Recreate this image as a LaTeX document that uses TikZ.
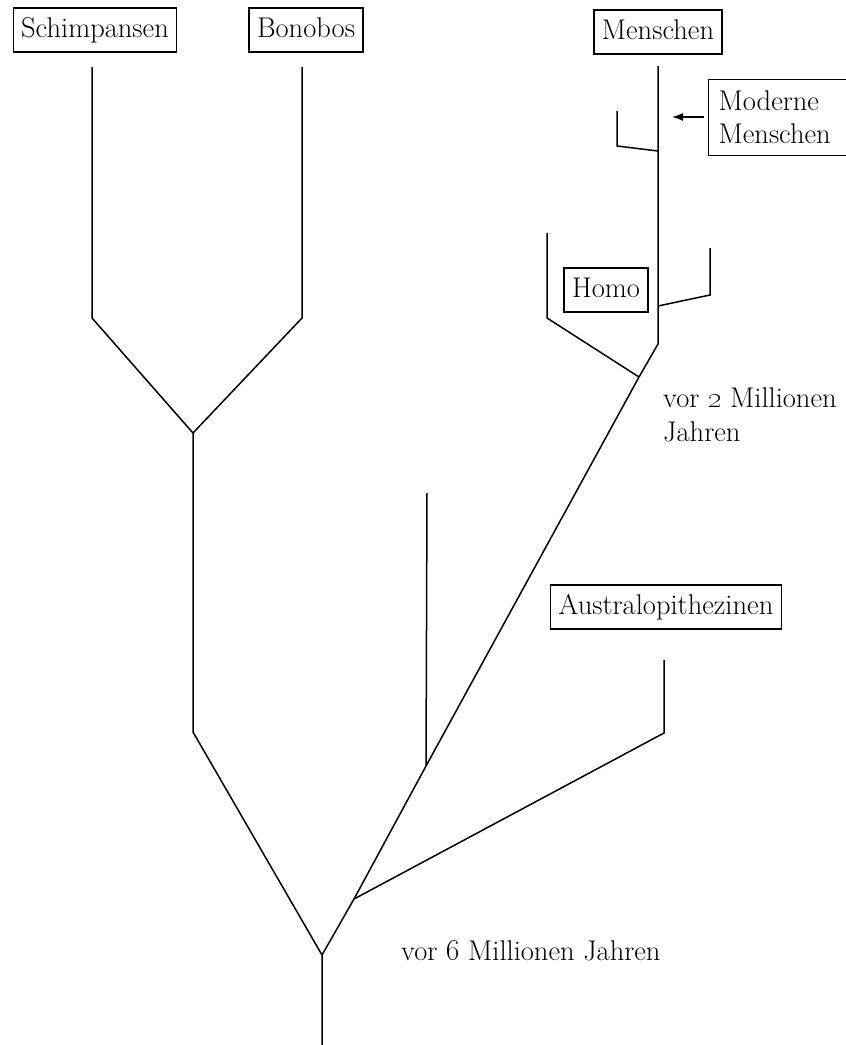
\documentclass[tikz,border=0pt]{standalone}
\usetikzlibrary{arrows.meta}
\begin{document}
\begin{tikzpicture}[x=1pt,y=-1pt,
  lbl/.style={draw, line width=1.3pt, font=\fontsize{28.5}{34}\selectfont,
    inner xsep=8pt, inner ysep=9.5pt, text height=19.5pt, text depth=5.5pt},
  txt/.style={font=\fontsize{28.5}{34}\selectfont, align=left, inner sep=0pt},
  branch/.style={line width=1.5pt, line join=miter, line cap=butt}]
\useasboundingbox (0,0) rectangle (846,1045);

% labels
\node[lbl] (schim) at (95,30) {Schimpansen};
\node[lbl] (bono) at (306,30) {Bonobos};
\node[lbl] (mensch) at (658,32) {Menschen};
\node[draw, line width=1.3pt, font=\fontsize{28.5}{33}\selectfont, align=left,
  text width=130pt, inner xsep=10pt, inner ysep=11.5pt, anchor=north west]
  (modern) at (708,79) {Moderne\\Menschen};
\node[lbl] (homo) at (606,290) {Homo};
\node[lbl] (austr) at (666,607) {Australopithezinen};
\node[txt, anchor=north west] (mya2) at (663,388) {vor \oldstylenums{2} Millionen\\Jahren};
\node[txt, anchor=base west] (mya6) at (401,960) {vor \oldstylenums{6} Millionen Jahren};

% branch points
\coordinate (root) at (322,1045);
\coordinate (j6) at (322,955);
\coordinate (jA) at (354,899);
\coordinate (jS) at (426,766);
\coordinate (j2) at (639,377);
\coordinate (jc) at (193,433);
\coordinate (jcb) at (193,732);

% chimp / bonobo
\draw[branch] (root) -- (j6) -- (jcb) -- (jc);
\draw[branch] (jc) -- (92,318) -- (92,67) coordinate (schimtop);
\draw[branch] (jc) -- (302,318) -- (302,67) coordinate (bonotop);

% hominin line
\draw[branch] (j6) -- (jA) -- (jS) -- (j2);
\draw[branch] (jA) -- (664,733) -- (664,660) coordinate (austtop);
\draw[branch] (jS) -- (427,493) coordinate (sidetop);
\draw[branch] (j2) -- (547,318) -- (547,233) coordinate (homoleft);
\draw[branch] (j2) -- (658,344) -- (658,66) coordinate (menschtop);
\coordinate (jh) at (658,306);
\draw[branch] (jh) -- (710,295) -- (710,248) coordinate (homoright);
\coordinate (jm) at (658,151);
\draw[branch] (jm) -- (617,146) -- (617,111) coordinate (modleft);

% arrow
\coordinate (arrtip) at (672,117);
\draw[line width=1.3pt, -{Latex[length=11pt,width=8pt]}] (modern.west |- arrtip) ++(-4,0) -- (arrtip);
\end{tikzpicture}
\end{document}
